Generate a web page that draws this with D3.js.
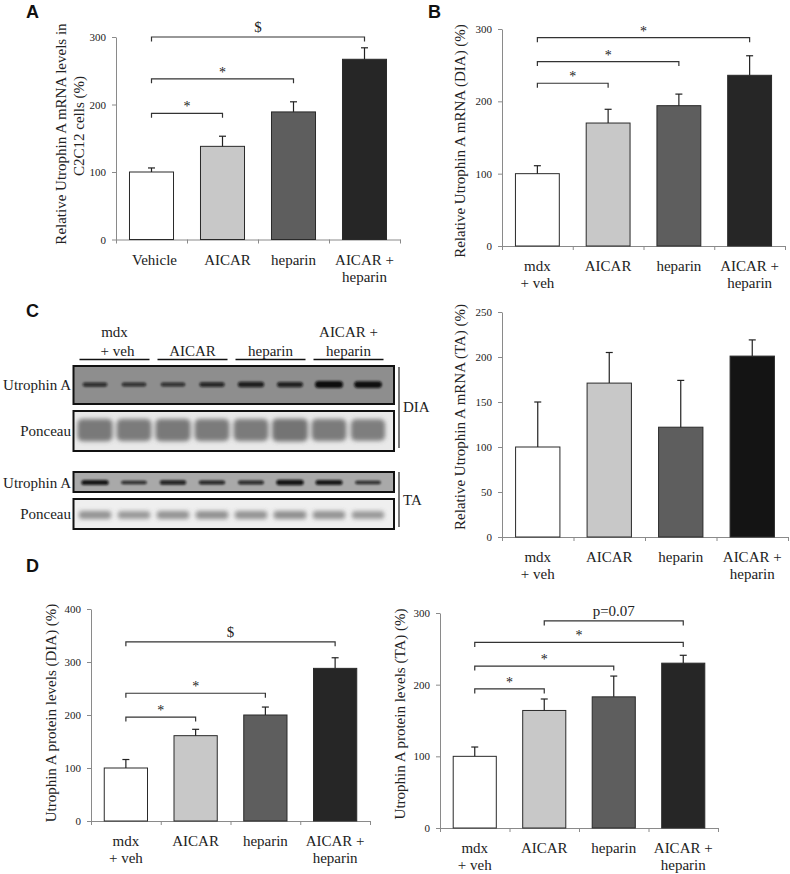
<!DOCTYPE html>
<html><head><meta charset="utf-8">
<script src="https://cdn.jsdelivr.net/npm/d3@7"></script>
<style>
html,body{margin:0;padding:0;background:#fff;}
svg{display:block;}
text{font-family:"Liberation Serif","Times New Roman",serif;fill:#222;}
.panel{font-family:"Liberation Sans",Arial,sans-serif;font-weight:bold;font-size:18px;fill:#111;}
</style></head>
<body>
<script>
// ---------- DATA ----------
const categoriesA = [["Vehicle"], ["AICAR"], ["heparin"], ["AICAR +", "heparin"]];
const categoriesMdx = [["mdx", "+ veh"], ["AICAR"], ["heparin"], ["AICAR +", "heparin"]];
const barColors = ["#ffffff", "#c8c8c8", "#5e5e5e", "#262626"];
const barColorsC = ["#ffffff", "#c8c8c8", "#5e5e5e", "#141414"];

// A: C2C12 mRNA
const valuesA = [100, 138, 189, 267];
const errorsA = [6, 15, 15, 17];
const ticksA = [0, 100, 200, 300];
// B: DIA mRNA
const valuesB = [100, 170, 194, 236];
const errorsB = [11, 19, 16, 27];
const ticksB = [0, 100, 200, 300];
// C right: TA mRNA
const valuesC = [100, 171, 122, 201];
const errorsC = [50, 34, 52, 18];
const ticksC = [0, 50, 100, 150, 200, 250];
// D left: DIA protein
const valuesDL = [100, 161, 200, 288];
const errorsDL = [16, 12, 15, 20];
const ticksDL = [0, 100, 200, 300, 400];
// D right: TA protein
const valuesDR = [100, 164, 183, 230];
const errorsDR = [13, 16, 29, 11];
const ticksDR = [0, 100, 200, 300];

// significance brackets: [from, to, level (data units), label]
const bracketsA = [[0, 3, 300, "$"], [0, 2, 238, "*"], [0, 1, 187, "*"]];
const bracketsB = [[0, 3, 288, "*"], [0, 2, 255, "*"], [0, 1, 225, "*"]];
const bracketsDL = [[0, 3, 338, "$"], [0, 2, 241, "*"], [0, 1, 196, "*"]];
const bracketsDR = [[1, 3, 289, "p=0.07"], [0, 3, 259, "*"], [0, 2, 226, "*"], [0, 1, 194, "*"]];

// western blot relative band intensities (8 lanes)
const blotGroups = [["mdx", "+ veh"], ["AICAR"], ["heparin"], ["AICAR +", "heparin"]];
const diaUtrophin = [0.45, 0.4, 0.4, 0.55, 0.7, 0.65, 1.0, 0.95];
const diaPonceau = [0.85, 0.8, 0.85, 0.8, 0.8, 0.95, 0.8, 0.7];
const taUtrophin = [0.8, 0.4, 0.6, 0.55, 0.45, 0.85, 0.75, 0.4];
const taPonceau = [0.6, 0.55, 0.6, 0.65, 0.6, 0.7, 0.6, 0.55];

// ---------- DRAW ----------
const svg = d3.select("body").append("svg").attr("width", 790).attr("height", 874);
const defs = svg.append("defs");
defs.append("filter").attr("id", "blur1").attr("x", "-50%").attr("y", "-100%").attr("width", "200%").attr("height", "300%")
  .append("feGaussianBlur").attr("stdDeviation", 1.1);
defs.append("filter").attr("id", "blur2").attr("x", "-50%").attr("y", "-100%").attr("width", "200%").attr("height", "300%")
  .append("feGaussianBlur").attr("stdDeviation", 2.2);

const axisColor = "#8a8a8a";

function barChart(cfg) {
  const g = svg.append("g");
  const x = d3.scaleBand().domain(d3.range(cfg.values.length)).range([cfg.x0, cfg.x1])
    .paddingInner(0.38).paddingOuter(0.19);
  const y = d3.scaleLinear().domain([0, cfg.max]).range([cfg.y0, cfg.y1]);

  // y axis
  const ya = g.append("g").attr("transform", `translate(${cfg.x0},0)`)
    .call(d3.axisLeft(y).tickValues(cfg.ticks).tickSize(4).tickSizeOuter(0).tickPadding(6));
  ya.select(".domain").attr("stroke", axisColor);
  ya.selectAll(".tick line").attr("stroke", axisColor);
  ya.selectAll(".tick text").attr("font-family", "Liberation Serif").attr("font-size", 11).attr("fill", "#333");

  // x axis
  const step = x.step();
  const xBound = d3.scaleLinear().domain([0, cfg.values.length]).range([cfg.x0, cfg.x0 + step * cfg.values.length]);
  const xa = g.append("g").attr("transform", `translate(0,${cfg.y0})`)
    .call(d3.axisBottom(xBound).tickValues(d3.range(cfg.values.length + 1)).tickSize(4).tickSizeOuter(0).tickFormat(""));
  xa.select(".domain").attr("stroke", axisColor);
  xa.selectAll(".tick line").attr("stroke", axisColor);

  // bars
  g.selectAll("rect.bar").data(cfg.values).enter().append("rect")
    .attr("x", (d, i) => x(i)).attr("width", x.bandwidth())
    .attr("y", d => y(d)).attr("height", d => y(0) - y(d))
    .attr("fill", (d, i) => cfg.colors[i]).attr("stroke", "#2a2a2a").attr("stroke-width", 1);

  // error bars (upper only)
  const cx = i => x(i) + x.bandwidth() / 2;
  cfg.values.forEach((v, i) => {
    const top = y(v + cfg.errors[i]);
    g.append("line").attr("x1", cx(i)).attr("x2", cx(i)).attr("y1", y(v)).attr("y2", top)
      .attr("stroke", "#222").attr("stroke-width", 1.2);
    g.append("line").attr("x1", cx(i) - 3.5).attr("x2", cx(i) + 3.5).attr("y1", top).attr("y2", top)
      .attr("stroke", "#222").attr("stroke-width", 1.2);
  });

  // brackets
  (cfg.brackets || []).forEach(b => {
    const by = y(b[2]);
    const xa1 = cx(b[0]), xa2 = cx(b[1]);
    g.append("path").attr("d", `M${xa1},${by + 4.5}V${by}H${xa2}V${by + 4.5}`)
      .attr("fill", "none").attr("stroke", "#333").attr("stroke-width", 1.2);
    const isStar = b[3] === "*";
    g.append("text").attr("x", (xa1 + xa2) / 2).attr("y", by - (isStar ? 2 : 5))
      .attr("text-anchor", "middle")
      .attr("font-size", isStar ? 14 : 15)
      .text(b[3]);
  });

  // category labels
  cfg.categories.forEach((lines, i) => {
    lines.forEach((ln, j) => {
      g.append("text").attr("x", cx(i) + (cfg.labelShift ? cfg.labelShift[i] : 0))
        .attr("y", cfg.y0 + 25 + j * 17).attr("text-anchor", "middle").attr("font-size", 15).text(ln);
    });
  });

  // y label
  cfg.ylabel.forEach(l => {
    g.append("text").attr("transform", `translate(${l.x},${l.y}) rotate(-90)`)
      .attr("text-anchor", "middle").attr("font-size", 15).attr("dominant-baseline", "central").text(l.t);
  });
}

// Panel A
barChart({x0: 116, x1: 400, y0: 239.5, y1: 37, max: 300, ticks: ticksA, values: valuesA, errors: errorsA,
  colors: barColors, brackets: bracketsA, categories: categoriesA, labelShift: [3, 5, 0, 0],
  ylabel: [{x: 61, y: 134, t: "Relative Utrophin A mRNA levels in"}, {x: 79, y: 126, t: "C2C12 cells (%)"}]});
// Panel B
barChart({x0: 502, x1: 785, y0: 246, y1: 29, max: 300, ticks: ticksB, values: valuesB, errors: errorsB,
  colors: barColors, brackets: bracketsB, categories: categoriesMdx,
  ylabel: [{x: 460, y: 141, t: "Relative Utrophin A mRNA (DIA) (%)"}]});
// Panel C right
barChart({x0: 502, x1: 788, y0: 537, y1: 312, max: 250, ticks: ticksC, values: valuesC, errors: errorsC,
  colors: barColorsC, brackets: [], categories: categoriesMdx,
  ylabel: [{x: 460, y: 417, t: "Relative Utrophin A mRNA (TA) (%)"}]});
// Panel D left
barChart({x0: 91, x1: 370, y0: 821, y1: 609, max: 400, ticks: ticksDL, values: valuesDL, errors: errorsDL,
  colors: barColors, brackets: bracketsDL, categories: categoriesMdx,
  ylabel: [{x: 51, y: 713, t: "Utrophin A protein levels (DIA) (%)"}]});
// Panel D right
barChart({x0: 440, x1: 718, y0: 828, y1: 613, max: 300, ticks: ticksDR, values: valuesDR, errors: errorsDR,
  colors: barColors, brackets: bracketsDR, categories: categoriesMdx,
  ylabel: [{x: 400, y: 714, t: "Utrophin A protein levels (TA) (%)"}]});

// ---------- Western blot (panel C left) ----------
const lane = d3.scalePoint().domain(d3.range(8)).range([95, 368]);
const bg = svg.append("g");

// group headers
blotGroups.forEach((lines, k) => {
  const c = (lane(2 * k) + lane(2 * k + 1)) / 2;
  lines.forEach((ln, j) => {
    const yy = lines.length === 2 ? 337 + j * 19 : 356;
    bg.append("text").attr("x", c + (k === 0 && j === 1 ? 3 : 0)).attr("y", yy).attr("text-anchor", "middle")
      .attr("font-size", 15).text(ln);
  });
  bg.append("line").attr("x1", c - 35).attr("x2", c + 35).attr("y1", 359.5).attr("y2", 359.5)
    .attr("stroke", "#111").attr("stroke-width", 1.6);
});

function blot(y, h, fill, intens, cy, opts) {
  bg.append("rect").attr("x", 73.5).attr("y", y).attr("width", 320.5).attr("height", h)
    .attr("fill", fill);
  const wScale = d3.scaleLinear().domain([0, 1]).range(opts.w);
  const hScale = d3.scaleLinear().domain([0, 1]).range(opts.h);
  const oScale = d3.scaleLinear().domain([0, 1]).range(opts.o);
  bg.append("g").attr("filter", `url(#${opts.filter})`).selectAll("rect").data(intens).enter().append("rect")
    .attr("x", (d, i) => lane(i) - wScale(d) / 2).attr("width", d => wScale(d))
    .attr("y", d => cy - hScale(d) / 2).attr("height", d => hScale(d))
    .attr("rx", d => Math.min(opts.rx || 99, hScale(d) / 2))
    .attr("fill", opts.color).attr("opacity", d => oScale(d));
  bg.append("rect").attr("x", 73.5).attr("y", y).attr("width", 320.5).attr("height", h)
    .attr("fill", "none").attr("stroke", "#111").attr("stroke-width", 2);
}
blot(366, 38, "#8e8e8e", diaUtrophin, 384.5, {w: [22, 28], h: [2, 7], o: [0.6, 1], color: "#0a0a0a", filter: "blur1"});
blot(411, 40, "#e9e9e9", diaPonceau, 430, {w: [30, 36], h: [18, 23], o: [0.55, 0.8], color: "#555", filter: "blur2", rx: 5});
blot(472, 20, "#a9a9a9", taUtrophin, 482.5, {w: [24, 28], h: [2, 6], o: [0.7, 1], color: "#0a0a0a", filter: "blur1"});
blot(499, 30, "#efefef", taPonceau, 515, {w: [30, 34], h: [6, 9], o: [0.45, 0.7], color: "#555", filter: "blur2", rx: 3});

// row labels
[["Utrophin A", 385], ["Ponceau", 431], ["Utrophin A", 483], ["Ponceau", 514]].forEach(r => {
  bg.append("text").attr("x", 71).attr("y", r[1]).attr("text-anchor", "end")
    .attr("dominant-baseline", "central").attr("font-size", 15).text(r[0]);
});
// tissue labels
[["DIA", 367, 448, 407], ["TA", 472, 527, 500]].forEach(t => {
  bg.append("line").attr("x1", 399).attr("x2", 399).attr("y1", t[1]).attr("y2", t[2])
    .attr("stroke", "#222").attr("stroke-width", 1.2);
  bg.append("text").attr("x", 403).attr("y", t[3]).attr("dominant-baseline", "central")
    .attr("font-size", 15).text(t[0]);
});

// panel letters
[["A", 26, 18], ["B", 428, 18], ["C", 26, 317], ["D", 26, 572]].forEach(p => {
  svg.append("text").attr("class", "panel").attr("x", p[1]).attr("y", p[2]).text(p[0]);
});
</script>
</body></html>
